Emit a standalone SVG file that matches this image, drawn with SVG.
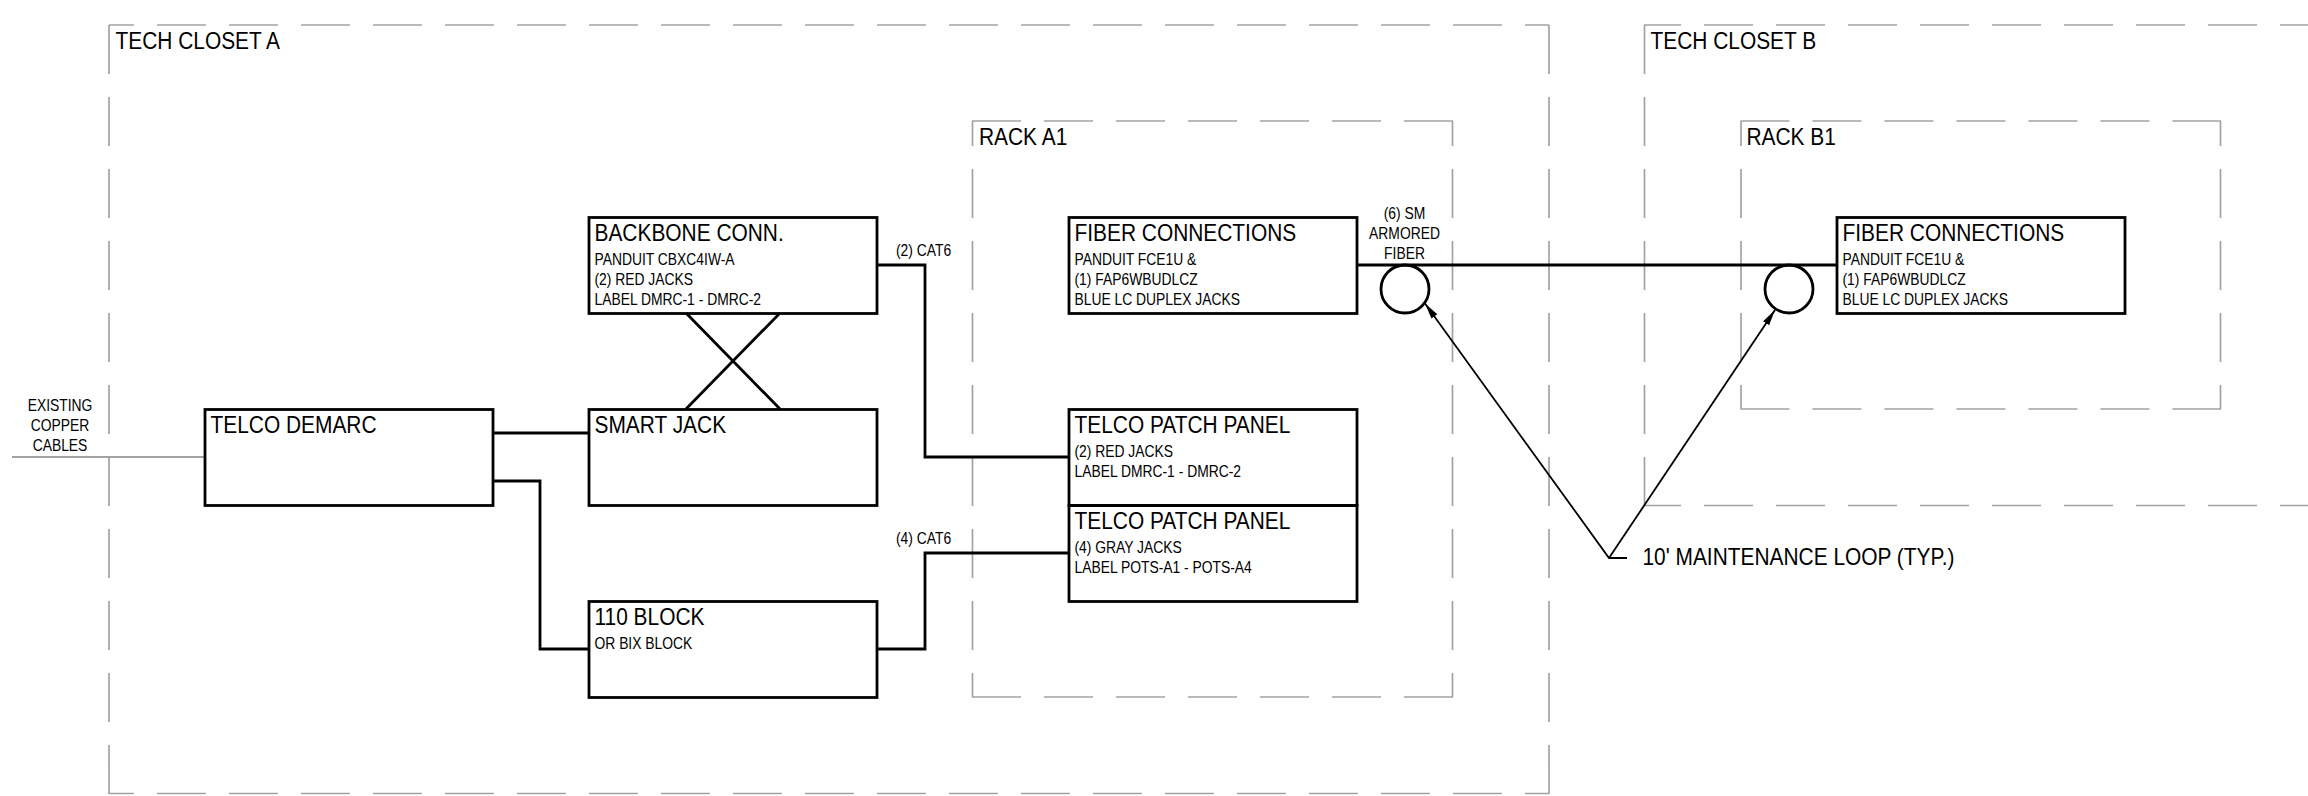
<svg xmlns="http://www.w3.org/2000/svg" width="2308" height="796" viewBox="0 0 2308 796">
<style>
text{font-family:"Liberation Sans",Arial,sans-serif;fill:#000}
.t{font-size:24.3px}
.s{font-size:16.8px}
.m{text-anchor:middle}
.dash{fill:none;stroke:#a3a3a3;stroke-width:1.7}
.v{stroke-dasharray:49 23}
.hc{stroke-dasharray:49 23;stroke-dashoffset:24}
.box{fill:none;stroke:#000;stroke-width:2.8;stroke-linejoin:miter}
.wire{fill:none;stroke:#000;stroke-width:2.8;stroke-linejoin:miter}
.leader{fill:none;stroke:#000;stroke-width:1.8}
.grayline{fill:none;stroke:#a3a3a3;stroke-width:1.8}
</style>
<defs>
<marker id="arrow" markerUnits="userSpaceOnUse" markerWidth="18" markerHeight="10" refX="16" refY="4" orient="auto">
<path d="M0 0.4L16 4L0 7.6Z" fill="#000"/>
</marker>
</defs>
<g id="boundaries">
<g id="tech-closet-a">
<path class="dash hc" d="M109 25H1549"/><path class="dash hc" d="M109 793.5H1549"/>
<path class="dash v" d="M109 25V794"/><path class="dash v" d="M1549 25V794"/>
<text class="t" transform="matrix(.86 0 0 1 115.5 49)">TECH CLOSET A</text>
</g>
<g id="tech-closet-b">
<path class="dash v" style="stroke-dashoffset:12" d="M1644 25H2308"/><path class="dash v" style="stroke-dashoffset:12" d="M1644 505.5H2308"/>
<path class="dash v" d="M1644.5 25V506"/>
<text class="t" transform="matrix(.86 0 0 1 1650.5 49)">TECH CLOSET B</text>
</g>
<g id="rack-a1">
<path class="dash v" d="M972 121H1453"/><path class="dash v" d="M972 697H1453"/>
<path class="dash hc" d="M972.5 121V697"/><path class="dash hc" d="M1452.5 121V697"/>
<text class="t" transform="matrix(.86 0 0 1 979 144.5)">RACK A1</text>
</g>
<g id="rack-b1">
<path class="dash v" d="M1740.5 121H2221"/><path class="dash v" d="M1740.5 409H2221"/>
<path class="dash hc" d="M1741 121V409"/><path class="dash hc" d="M2220.5 121V409"/>
<text class="t" transform="matrix(.86 0 0 1 1746.5 144.5)">RACK B1</text>
</g>
</g>
<g id="connectors">
<path class="grayline" d="M12 457H205"/>
<path class="wire" d="M492 433H589"/>
<path class="wire" d="M492 481H540V649H589"/>
<path class="wire" d="M686 313L780 409"/>
<path class="wire" d="M780 313L686 409"/>
<path class="wire" d="M877 265H925V457H1069"/>
<path class="wire" d="M877 649H925V553H1069"/>
<path class="wire" d="M1357 265H1837"/>
<path class="leader" d="M1627 558H1609L1425 303.5" marker-end="url(#arrow)"/>
<path class="leader" d="M1609 558L1775 310" marker-end="url(#arrow)"/>
<text class="s m" transform="matrix(.825 0 0 1 60 411)">EXISTING</text>
<text class="s m" transform="matrix(.825 0 0 1 60 431)">COPPER</text>
<text class="s m" transform="matrix(.825 0 0 1 60 451)">CABLES</text>
<text class="s" transform="matrix(.825 0 0 1 896 256)">(2) CAT6</text>
<text class="s" transform="matrix(.825 0 0 1 896 544)">(4) CAT6</text>
<text class="s m" transform="matrix(.825 0 0 1 1404.5 219)">(6) SM</text>
<text class="s m" transform="matrix(.825 0 0 1 1404.5 239)">ARMORED</text>
<text class="s m" transform="matrix(.825 0 0 1 1404.5 259)">FIBER</text>
<text class="t" transform="matrix(.86 0 0 1 1642.5 564.5)">10' MAINTENANCE LOOP (TYP.)</text>
</g>
<g id="telco-demarc">
<rect class="box" x="205" y="409.5" width="288" height="96"/>
<text class="t" transform="matrix(.86 0 0 1 210.5 432.5)">TELCO DEMARC</text>
</g>
<g id="backbone-conn">
<rect class="box" x="589" y="217.5" width="288" height="96"/>
<text class="t" transform="matrix(.86 0 0 1 594.5 240.5)">BACKBONE CONN.</text>
<text class="s" transform="matrix(.825 0 0 1 594.5 265)">PANDUIT CBXC4IW-A</text>
<text class="s" transform="matrix(.825 0 0 1 594.5 285)">(2) RED JACKS</text>
<text class="s" transform="matrix(.825 0 0 1 594.5 305)">LABEL DMRC-1 - DMRC-2</text>
</g>
<g id="smart-jack">
<rect class="box" x="589" y="409.5" width="288" height="96"/>
<text class="t" transform="matrix(.86 0 0 1 594.5 432.5)">SMART JACK</text>
</g>
<g id="block-110">
<rect class="box" x="589" y="601.5" width="288" height="96"/>
<text class="t" transform="matrix(.86 0 0 1 594.5 625)">110 BLOCK</text>
<text class="s" transform="matrix(.825 0 0 1 594.5 649)">OR BIX BLOCK</text>
</g>
<g id="fiber-connections-a">
<rect class="box" x="1069" y="217.5" width="288" height="96"/>
<text class="t" transform="matrix(.86 0 0 1 1074.5 240.5)">FIBER CONNECTIONS</text>
<text class="s" transform="matrix(.825 0 0 1 1074.5 265)">PANDUIT FCE1U &amp;</text>
<text class="s" transform="matrix(.825 0 0 1 1074.5 285)">(1) FAP6WBUDLCZ</text>
<text class="s" transform="matrix(.825 0 0 1 1074.5 305)">BLUE LC DUPLEX JACKS</text>
</g>
<g id="telco-patch-panel-1">
<rect class="box" x="1069" y="409.5" width="288" height="96"/>
<text class="t" transform="matrix(.86 0 0 1 1074.5 432.5)">TELCO PATCH PANEL</text>
<text class="s" transform="matrix(.825 0 0 1 1074.5 457)">(2) RED JACKS</text>
<text class="s" transform="matrix(.825 0 0 1 1074.5 477)">LABEL DMRC-1 - DMRC-2</text>
</g>
<g id="telco-patch-panel-2">
<rect class="box" x="1069" y="505.5" width="288" height="96"/>
<text class="t" transform="matrix(.86 0 0 1 1074.5 528.5)">TELCO PATCH PANEL</text>
<text class="s" transform="matrix(.825 0 0 1 1074.5 553)">(4) GRAY JACKS</text>
<text class="s" transform="matrix(.825 0 0 1 1074.5 573)">LABEL POTS-A1 - POTS-A4</text>
</g>
<g id="fiber-connections-b">
<rect class="box" x="1837" y="217.5" width="288" height="96"/>
<text class="t" transform="matrix(.86 0 0 1 1842.5 240.5)">FIBER CONNECTIONS</text>
<text class="s" transform="matrix(.825 0 0 1 1842.5 265)">PANDUIT FCE1U &amp;</text>
<text class="s" transform="matrix(.825 0 0 1 1842.5 285)">(1) FAP6WBUDLCZ</text>
<text class="s" transform="matrix(.825 0 0 1 1842.5 305)">BLUE LC DUPLEX JACKS</text>
</g>
<g id="loop-a"><circle class="box" cx="1405" cy="289" r="24"/></g>
<g id="loop-b"><circle class="box" cx="1789" cy="289" r="24"/></g>
</svg>
